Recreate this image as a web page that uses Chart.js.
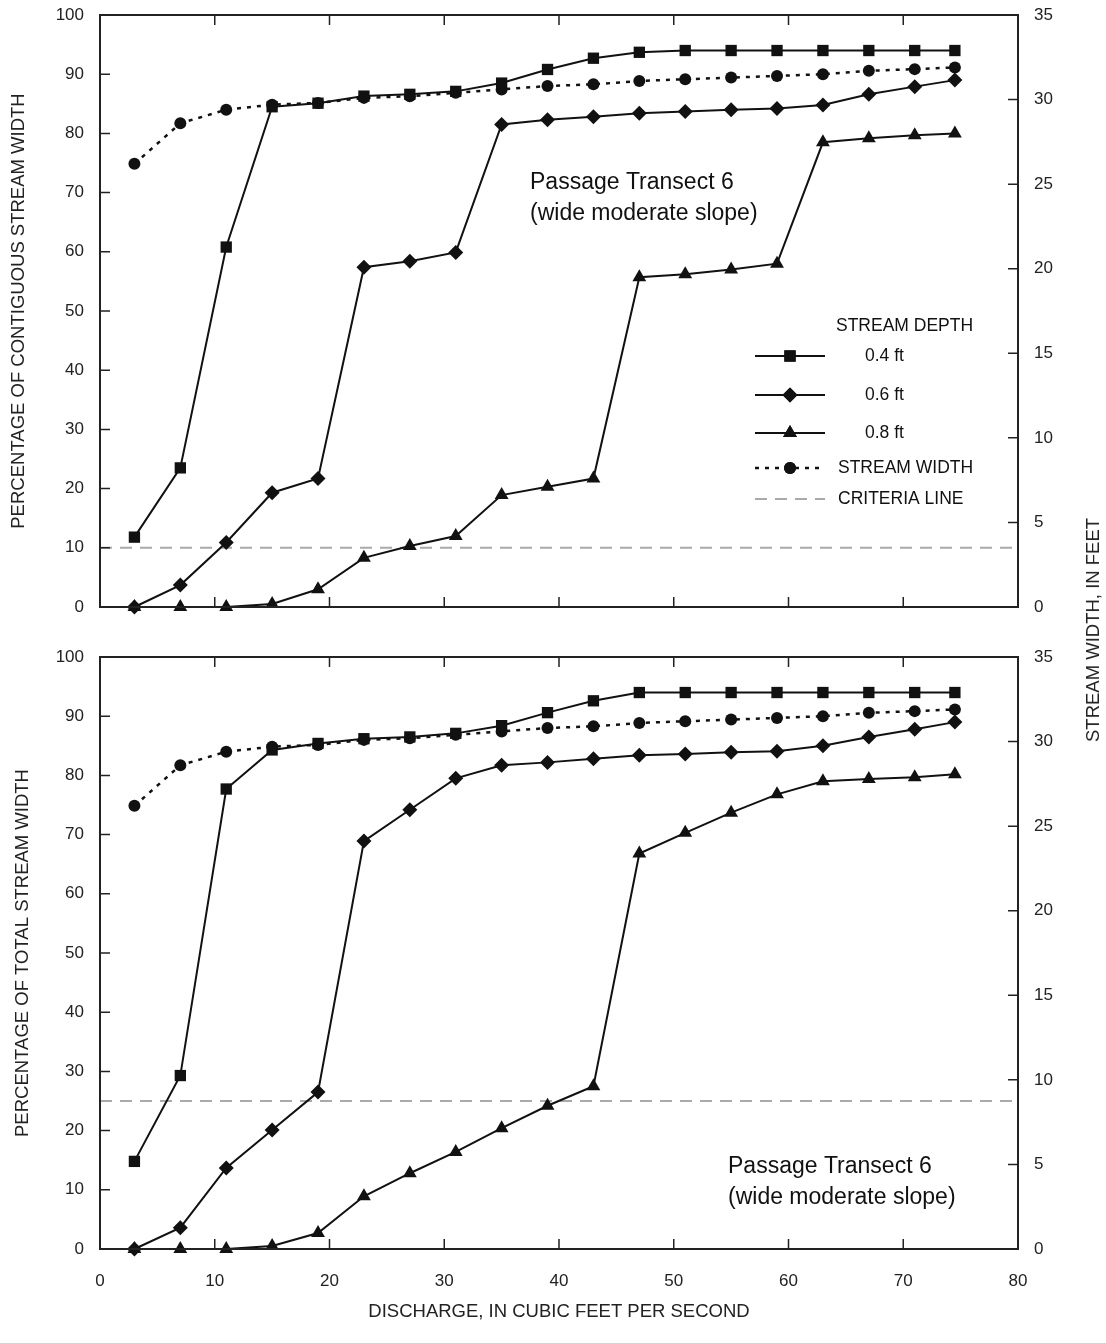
<!DOCTYPE html>
<html>
<head>
<meta charset="utf-8">
<script src="https://cdn.jsdelivr.net/npm/chart.js@4.4.1/dist/chart.umd.min.js"></script>
<style>
  html, body { margin: 0; padding: 0; background: #fff; }
  #page { position: relative; width: 1106px; height: 1343px; }
  .panel { position: absolute; left: 0; width: 1106px; }
  #topPanel { top: 0; height: 630px; }
  #bottomPanel { top: 630px; height: 713px; }
  #rightTitle {
    position: absolute; left: 1093px; top: 630px;
    transform: translate(-50%, -50%) rotate(-90deg);
    font: 18.5px "Liberation Sans", Arial, sans-serif; color: #222; white-space: nowrap;
  }
</style>
</head>
<body>
<div id="page">
  <div class="panel" id="topPanel"><canvas id="topChart"></canvas></div>
  <div class="panel" id="bottomPanel"><canvas id="bottomChart"></canvas></div>
  <div id="rightTitle">STREAM WIDTH, IN FEET</div>
</div>
<script>
// discharge, cfs
const discharge = [3, 7, 11, 15, 19, 23, 27, 31, 35, 39, 43, 47, 51, 55, 59, 63, 67, 71, 74.5];

// percentage of contiguous stream width (top panel)
const contig04 = [11.8, 23.5, 60.8, 84.5, 85.1, 86.3, 86.6, 87.1, 88.5, 90.8, 92.7, 93.7, 94, 94, 94, 94, 94, 94, 94];
const contig06 = [0, 3.7, 10.9, 19.3, 21.7, 57.4, 58.4, 59.9, 81.5, 82.3, 82.8, 83.4, 83.7, 84, 84.2, 84.8, 86.6, 87.9, 89];
const contig08 = [0, 0, 0, 0.5, 3, 8.3, 10.3, 12, 18.9, 20.3, 21.7, 55.7, 56.2, 57, 58, 78.5, 79.2, 79.7, 80];

// percentage of total stream width (bottom panel)
const total04 = [14.8, 29.3, 77.7, 84.3, 85.4, 86.2, 86.5, 87.1, 88.4, 90.6, 92.6, 94, 94, 94, 94, 94, 94, 94, 94];
const total06 = [0, 3.6, 13.7, 20.1, 26.5, 68.9, 74.2, 79.5, 81.7, 82.2, 82.8, 83.4, 83.6, 83.9, 84.1, 85, 86.5, 87.8, 89];
const total08 = [0, 0, 0, 0.5, 2.7, 8.9, 12.8, 16.4, 20.4, 24.2, 27.5, 66.8, 70.3, 73.7, 76.8, 79, 79.4, 79.7, 80.2];

// stream width, feet (right axis)
const streamWidth = [26.2, 28.6, 29.4, 29.7, 29.8, 30.1, 30.2, 30.4, 30.6, 30.8, 30.9, 31.1, 31.2, 31.3, 31.4, 31.5, 31.7, 31.8, 31.9];

const criteriaTop = 10;
const criteriaBottom = 25;

const xTicks = [0, 10, 20, 30, 40, 50, 60, 70, 80];
const pctTicks = [0, 10, 20, 30, 40, 50, 60, 70, 80, 90, 100];
const feetTicks = [0, 5, 10, 15, 20, 25, 30, 35];

const FONT = '"Liberation Sans", Arial, sans-serif';
Chart.defaults.font.family = FONT;
Chart.defaults.color = '#222';

const pts = (ys) => discharge.map((x, i) => ({ x: x, y: ys[i] }));

function depthSet(label, ys, style, radius) {
  return {
    label: label, data: pts(ys), yAxisID: 'y',
    borderColor: '#111', borderWidth: 2, backgroundColor: '#111',
    pointStyle: style, pointRadius: radius, pointHoverRadius: radius,
    pointBackgroundColor: '#111', pointBorderColor: '#111', pointBorderWidth: 0,
    clip: false, tension: 0,
  };
}

function datasets(d04, d06, d08, crit) {
  return [
    depthSet('0.4 ft', d04, 'rect', 8),
    depthSet('0.6 ft', d06, 'rectRot', 7.5),
    depthSet('0.8 ft', d08, 'triangle', 8),
    {
      label: 'STREAM WIDTH', data: pts(streamWidth), yAxisID: 'y2',
      borderColor: '#111', borderWidth: 2.5, borderDash: [4, 6],
      pointStyle: 'circle', pointRadius: 6, pointBackgroundColor: '#111', pointBorderWidth: 0,
      clip: false,
    },
    {
      label: 'CRITERIA LINE',
      data: [{ x: xTicks[0], y: crit }, { x: xTicks[xTicks.length - 1], y: crit }],
      yAxisID: 'y', borderColor: '#a9a9a9', borderWidth: 2, borderDash: [12, 8],
      pointRadius: 0, order: 5,
    },
  ];
}

// frame with inward tick marks on all four sides
const frame = {
  id: 'frame',
  afterDatasetsDraw(chart) {
    const { ctx, chartArea: a, scales } = chart;
    ctx.save();
    ctx.strokeStyle = '#222';
    ctx.lineWidth = 1.5;
    ctx.beginPath();
    xTicks.forEach((v) => {
      const px = scales.x.getPixelForValue(v);
      ctx.moveTo(px, a.bottom); ctx.lineTo(px, a.bottom - 10);
      ctx.moveTo(px, a.top); ctx.lineTo(px, a.top + 10);
    });
    pctTicks.forEach((v) => {
      const py = scales.y.getPixelForValue(v);
      ctx.moveTo(a.left, py); ctx.lineTo(a.left + 10, py);
    });
    feetTicks.forEach((v) => {
      const py = scales.y2.getPixelForValue(v);
      ctx.moveTo(a.right, py); ctx.lineTo(a.right - 10, py);
    });
    ctx.stroke();
    ctx.lineWidth = 2;
    ctx.strokeRect(a.left, a.top, a.right - a.left, a.bottom - a.top);
    ctx.restore();
  },
};

// panel label text
const note = {
  id: 'note',
  afterDraw(chart, args, opts) {
    if (!opts.lines) return;
    const ctx = chart.ctx;
    ctx.save();
    ctx.fillStyle = '#111';
    ctx.font = '23px ' + FONT;
    ctx.textBaseline = 'middle';
    opts.lines.forEach((t, i) => ctx.fillText(t, opts.x, opts.y + i * 31));
    ctx.restore();
  },
};

// hand drawn legend (top panel)
const keyBox = {
  id: 'keyBox',
  afterDraw(chart, args, opts) {
    if (!opts.show) return;
    const ctx = chart.ctx;
    const sets = chart.data.datasets;
    ctx.save();
    ctx.font = '17.5px ' + FONT;
    ctx.fillStyle = '#111';
    ctx.textBaseline = 'middle';
    ctx.fillText('STREAM DEPTH', 836, 326);
    const rows = [
      { ds: sets[0], y: 356, tx: 865 },
      { ds: sets[1], y: 395, tx: 865 },
      { ds: sets[2], y: 433, tx: 865 },
      { ds: sets[3], y: 468, tx: 838 },
      { ds: sets[4], y: 499, tx: 838 },
    ];
    rows.forEach((r) => {
      const ds = r.ds;
      ctx.save();
      ctx.strokeStyle = ds.borderColor;
      ctx.lineWidth = ds.borderWidth;
      ctx.setLineDash(ds.borderDash || []);
      ctx.beginPath();
      ctx.moveTo(755, r.y); ctx.lineTo(825, r.y);
      ctx.stroke();
      ctx.restore();
      if (ds.pointRadius > 0) {
        ctx.fillStyle = '#111';
        Chart.helpers.drawPoint(ctx, { pointStyle: ds.pointStyle, radius: ds.pointRadius, borderWidth: 0 }, 790, r.y);
        ctx.fill();
      }
      ctx.fillStyle = '#111';
      ctx.fillText(ds.label, r.tx, r.y);
    });
    ctx.restore();
  },
};

// fixed axis box, no extra room for half labels
function fixWidth(w) {
  return (s) => { s.width = w; s.paddingTop = 0; s.paddingBottom = 0; };
}

function yScales(title, titlePad) {
  return {
    y: {
      position: 'left', min: 0, max: 100,
      ticks: { stepSize: 10, padding: 16, font: { size: 17 }, color: '#222' },
      grid: { display: false, drawTicks: false }, border: { display: false },
      title: { display: true, text: title, font: { size: 18.5 }, color: '#222', padding: { top: titlePad, bottom: 0 } },
      afterFit: fixWidth(100),
    },
    y2: {
      position: 'right', min: 0, max: 35,
      ticks: { stepSize: 5, padding: 16, font: { size: 17 }, color: '#222' },
      grid: { display: false, drawTicks: false }, border: { display: false },
      afterFit: fixWidth(88),
    },
  };
}

new Chart(document.getElementById('topChart'), {
  type: 'line',
  data: { datasets: datasets(contig04, contig06, contig08, criteriaTop) },
  options: {
    responsive: true, maintainAspectRatio: false, animation: false,
    layout: { padding: { top: 15, bottom: 23, left: 0, right: 0 } },
    plugins: {
      legend: { display: false }, tooltip: { enabled: false },
      note: { x: 530, y: 183, lines: ['Passage Transect 6', '(wide moderate slope)'] },
      keyBox: { show: true },
    },
    scales: Object.assign({
      x: { type: 'linear', min: 0, max: 80, display: false },
    }, yScales('PERCENTAGE OF CONTIGUOUS STREAM WIDTH', 8)),
  },
  plugins: [frame, note, keyBox],
});

new Chart(document.getElementById('bottomChart'), {
  type: 'line',
  data: { datasets: datasets(total04, total06, total08, criteriaBottom) },
  options: {
    responsive: true, maintainAspectRatio: false, animation: false,
    layout: { padding: { top: 27, bottom: 0, left: 0, right: 0 } },
    plugins: {
      legend: { display: false }, tooltip: { enabled: false },
      note: { x: 728, y: 537, lines: ['Passage Transect 6', '(wide moderate slope)'] },
      keyBox: { show: false },
    },
    scales: Object.assign({
      x: {
        type: 'linear', min: 0, max: 80,
        ticks: { stepSize: 10, padding: 22, font: { size: 17 }, color: '#222' },
        grid: { display: false, drawTicks: false }, border: { display: false },
        title: { display: true, text: 'DISCHARGE, IN CUBIC FEET PER SECOND', font: { size: 18.5 }, color: '#222', padding: { top: 0, bottom: 20 } },
        afterFit(s) { s.height = 94; },
      },
    }, yScales('PERCENTAGE OF TOTAL STREAM WIDTH', 12)),
  },
  plugins: [frame, note, keyBox],
});
</script>
</body>
</html>
